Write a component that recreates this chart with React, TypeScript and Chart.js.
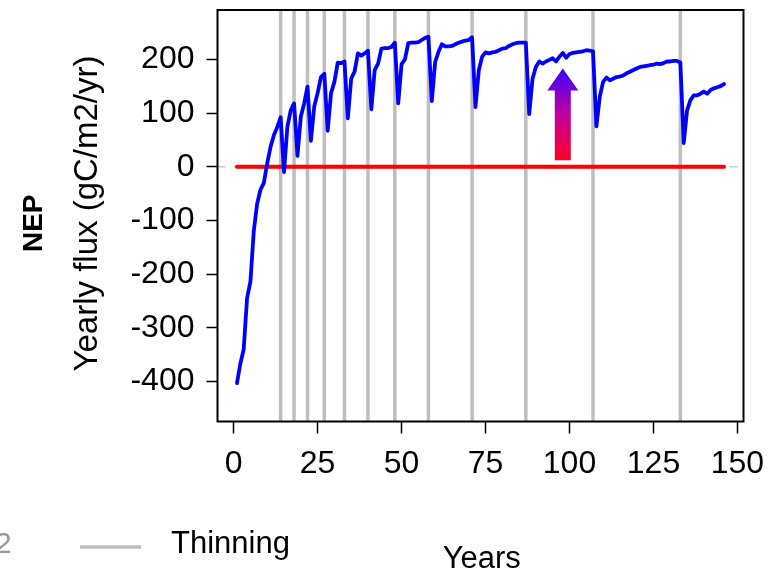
import React, { useEffect, useRef } from "react";
import { Chart, registerables } from "chart.js";

Chart.register(...registerables);

// ---- Data ----
const firstYear = 1;
// Yearly NEP (gC/m2/yr), years 1..146
const nepValues = [
  -403, -367, -340, -245, -214, -120, -69, -43, -30, 6,
  37, 59, 74, 92, -10, 74, 105, 118, 20, 93,
  118, 149, 48, 112, 137, 167, 173, 67, 137, 158,
  194, 193, 196, 90, 164, 177, 211, 207, 211, 216,
  107, 180, 192, 220, 221, 221, 223, 231, 118, 191,
  200, 230, 231, 231, 232, 236, 240, 242, 122, 195,
  214, 228, 224, 224, 225, 228, 231, 233, 235, 236,
  241, 111, 180, 205, 213, 211, 213, 214, 217, 220,
  221, 225, 228, 230, 231, 231, 231, 98, 164, 186,
  196, 192, 196, 199, 202, 196, 205, 212, 203, 210,
  212, 213, 214, 215, 217, 216, 215, 75, 130, 158,
  166, 161, 164, 167, 168, 170, 174, 177, 180, 183,
  186, 187, 188, 189, 190, 192, 191, 193, 196, 196,
  197, 197, 194, 44, 105, 124, 133, 133, 136, 140,
  136, 143, 146, 148, 150, 154,
];
const nepYears = nepValues.map((_, i) => firstYear + i);

const thinningYears = [14, 18, 22, 27, 33, 40, 48, 58, 71, 87, 107, 133];

const zeroLineYears = [1, 146];
const zeroLineValues = [0, 0];

const xTickValues = [0, 25, 50, 75, 100, 125, 150];
const yTickValues = [-400, -300, -200, -100, 0, 100, 200];

const arrowYear = 98;
const arrowFrom = 12;
const arrowTo = 183;
const arrowHeadBase = 142;

const FONT = "'Liberation Sans', Arial, Helvetica, sans-serif";

const overlayPlugin = {
  id: "overlay",
  beforeDatasetsDraw(chart: any) {
    const { ctx, chartArea, scales } = chart;
    const xs = scales.x;
    const ys = scales.y;
    ctx.save();
    // thinning lines
    ctx.strokeStyle = "#bebebe";
    ctx.lineWidth = 3.5;
    thinningYears.forEach((yr) => {
      const px = xs.getPixelForValue(yr);
      ctx.beginPath();
      ctx.moveTo(px, chartArea.top);
      ctx.lineTo(px, chartArea.bottom);
      ctx.stroke();
    });
    // dashed zero line
    const y0 = ys.getPixelForValue(0);
    ctx.strokeStyle = "#c8c8c8";
    ctx.lineWidth = 1.5;
    ctx.setLineDash([8, 8]);
    ctx.beginPath();
    ctx.moveTo(chartArea.left, y0);
    ctx.lineTo(chartArea.right, y0);
    ctx.stroke();
    ctx.restore();
  },
  afterDatasetsDraw(chart: any) {
    const { ctx, scales } = chart;
    const xs = scales.x;
    const ys = scales.y;
    const cx = xs.getPixelForValue(arrowYear);
    const yb = ys.getPixelForValue(arrowFrom);
    const yt = ys.getPixelForValue(arrowTo);
    const yh = ys.getPixelForValue(arrowHeadBase);
    const shaftHalf = 8;
    const headHalf = 15.5;
    ctx.save();
    const grad = ctx.createLinearGradient(0, yb, 0, yt);
    grad.addColorStop(0, "#ff0020");
    grad.addColorStop(0.5, "#c000a0");
    grad.addColorStop(1, "#3a00ff");
    ctx.fillStyle = grad;
    ctx.beginPath();
    ctx.moveTo(cx - shaftHalf, yb);
    ctx.lineTo(cx + shaftHalf, yb);
    ctx.lineTo(cx + shaftHalf, yh);
    ctx.lineTo(cx + headHalf, yh);
    ctx.lineTo(cx, yt);
    ctx.lineTo(cx - headHalf, yh);
    ctx.lineTo(cx - shaftHalf, yh);
    ctx.closePath();
    ctx.fill();
    ctx.restore();
  },
  afterDraw(chart: any) {
    const { ctx, chartArea } = chart;
    ctx.save();
    // box
    ctx.strokeStyle = "#000";
    ctx.lineWidth = 2;
    ctx.strokeRect(
      chartArea.left,
      chartArea.top,
      chartArea.right - chartArea.left,
      chartArea.bottom - chartArea.top
    );
    ctx.fillStyle = "#000";
    // NEP
    ctx.save();
    ctx.translate(41.7, 223.3);
    ctx.rotate(-Math.PI / 2);
    ctx.font = `bold 28px ${FONT}`;
    ctx.textAlign = "center";
    ctx.textBaseline = "alphabetic";
    ctx.fillText("NEP", 0, 0);
    ctx.restore();
    // y title
    ctx.save();
    ctx.translate(97, 213.5);
    ctx.rotate(-Math.PI / 2);
    ctx.font = `33px ${FONT}`;
    ctx.textAlign = "center";
    ctx.textBaseline = "alphabetic";
    ctx.fillText("Yearly flux (gC/m2/yr)", 0, 0);
    ctx.restore();
    // x title
    ctx.font = `31px ${FONT}`;
    ctx.textAlign = "center";
    ctx.textBaseline = "alphabetic";
    ctx.fillText("Years", 481.8, 568);
    // legend
    ctx.strokeStyle = "#bebebe";
    ctx.lineWidth = 3.5;
    ctx.beginPath();
    ctx.moveTo(80, 547);
    ctx.lineTo(141, 547);
    ctx.stroke();
    ctx.font = `31px ${FONT}`;
    ctx.textAlign = "left";
    ctx.fillText("Thinning", 171, 553.3);
    // slide artefact
    ctx.fillStyle = "#999";
    ctx.font = `30px ${FONT}`;
    ctx.fillText("2", -5, 553);
    ctx.restore();
  },
};

export default function App() {
  const ref = useRef<HTMLCanvasElement | null>(null);

  useEffect(() => {
    const canvas = ref.current;
    if (!canvas) return;
    const chart = new Chart(canvas, {
      type: "line",
      data: {
        datasets: [
          {
            data: nepYears.map((x, i) => ({ x, y: nepValues[i] })),
            borderColor: "#0000ff",
            borderWidth: 3.8,
            pointRadius: 0,
            tension: 0,
            borderJoinStyle: "round",
            borderCapStyle: "round",
            order: 0,
          },
          {
            data: zeroLineYears.map((x, i) => ({ x, y: zeroLineValues[i] })),
            borderColor: "#ff0000",
            borderWidth: 4,
            pointRadius: 0,
            tension: 0,
            borderCapStyle: "round",
            order: 1,
          },
        ],
      },
      options: {
        animation: false,
        responsive: false,
        devicePixelRatio: 1,
        layout: { padding: { left: 0, right: 31.5, top: 10, bottom: 0 } },
        plugins: {
          legend: { display: false },
          tooltip: { enabled: false },
          title: { display: false },
        },
        scales: {
          x: {
            type: "linear",
            min: -4.8,
            max: 151.8,
            afterBuildTicks: (s: any) => {
              s.ticks = xTickValues.map((v) => ({ value: v }));
            },
            afterFit: (s: any) => {
              s.height = 150.5;
              s.paddingLeft = 0;
              s.paddingRight = 0;
            },
            grid: {
              display: true,
              drawOnChartArea: false,
              drawTicks: true,
              tickLength: 12,
              tickWidth: 1.5,
              tickColor: "#000",
              color: "#000",
            },
            border: { display: false },
            ticks: {
              color: "#000",
              font: { family: FONT, size: 32 },
              padding: 11,
              maxRotation: 0,
              autoSkip: false,
              callback: (v: any) => String(v),
            },
          },
          y: {
            type: "linear",
            min: -474.6,
            max: 291.9,
            afterBuildTicks: (s: any) => {
              s.ticks = yTickValues.map((v) => ({ value: v }));
            },
            afterFit: (s: any) => {
              s.width = 217.5;
              s.paddingTop = 0;
              s.paddingBottom = 0;
            },
            grid: {
              display: true,
              drawOnChartArea: false,
              drawTicks: true,
              tickLength: 11,
              tickWidth: 1.5,
              tickColor: "#000",
              color: "#000",
            },
            border: { display: false },
            ticks: {
              color: "#000",
              font: { family: FONT, size: 32 },
              padding: 12,
              autoSkip: false,
              callback: (v: any) => String(v),
            },
          },
        },
      },
      plugins: [overlayPlugin],
    } as any);
    return () => chart.destroy();
  }, []);

  return (
    <div
      style={{
        position: "fixed",
        left: 0,
        top: 0,
        width: 775,
        height: 572,
        background: "#fff",
      }}
    >
      <canvas
        ref={ref}
        width={775}
        height={572}
        style={{ width: "775px", height: "572px", display: "block" }}
      />
    </div>
  );
}
